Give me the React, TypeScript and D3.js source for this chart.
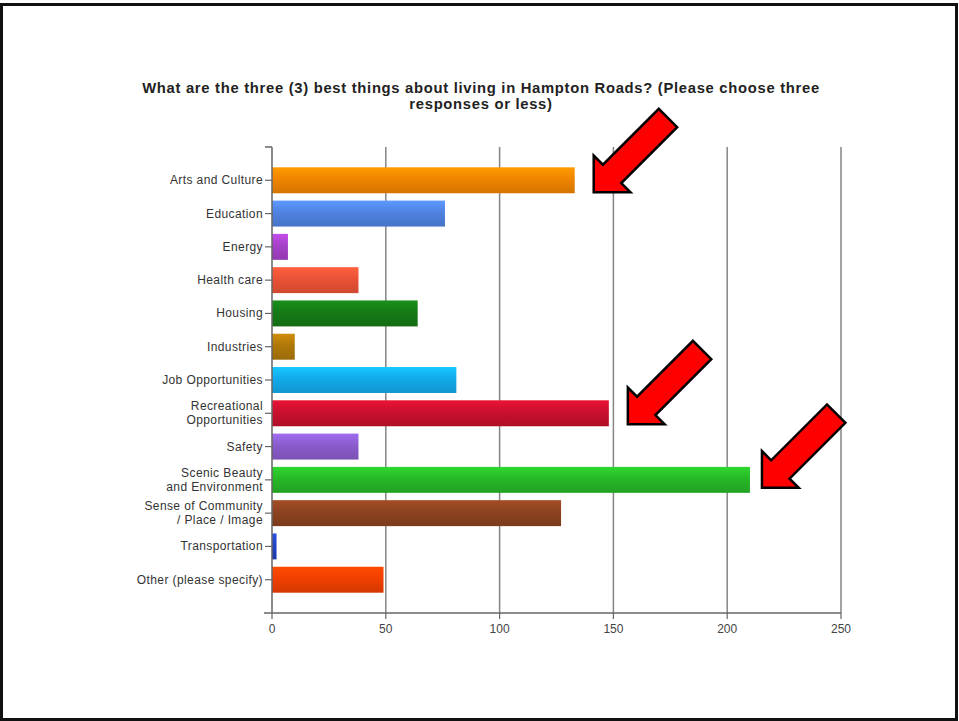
import React from "react";
import * as d3 from "d3";

const categories = [
  "Arts and Culture",
  "Education",
  "Energy",
  "Health care",
  "Housing",
  "Industries",
  "Job Opportunities",
  "Recreational Opportunities",
  "Safety",
  "Scenic Beauty and Environment",
  "Sense of Community / Place / Image",
  "Transportation",
  "Other (please specify)",
];
const labelLines = [
  ["Arts and Culture"],
  ["Education"],
  ["Energy"],
  ["Health care"],
  ["Housing"],
  ["Industries"],
  ["Job Opportunities"],
  ["Recreational", "Opportunities"],
  ["Safety"],
  ["Scenic Beauty", "and Environment"],
  ["Sense of Community", "/ Place / Image"],
  ["Transportation"],
  ["Other (please specify)"],
];
const values = [133, 76, 7, 38, 64, 10, 81, 148, 38, 210, 127, 2, 49];
const barColors = [
  "#f08400",
  "#4f82e0",
  "#a641c8",
  "#ea5236",
  "#157a15",
  "#b0780a",
  "#12aaea",
  "#c8102e",
  "#8a5ccc",
  "#27b827",
  "#8c4220",
  "#2244c4",
  "#f04000",
];
const xTicks = [0, 50, 100, 150, 200, 250];
const titleLines = [
  "What are the three (3) best things about living in Hampton Roads? (Please choose three",
  "responses or less)",
];
const highlighted = [
  "Arts and Culture",
  "Recreational Opportunities",
  "Scenic Beauty and Environment",
];

const W = 959;
const H = 721;
const plot = { left: 272, right: 841, top: 147, bottom: 613 };

export default function App() {
  const x = d3.scaleLinear().domain([0, 250]).range([plot.left, plot.right]);
  const y = d3
    .scalePoint<string>()
    .domain(categories)
    .range([plot.top, plot.bottom])
    .padding(1);
  const step = y.step();
  const bh = step * 0.78;
  const font = "'Liberation Sans', Arial, sans-serif";
  const narrow = "'Liberation Sans Narrow', 'Liberation Sans', Arial, sans-serif";

  // arrow polygon in local coords: tip at origin, shaft going along +x
  const arrowPts: [number, number][] = [
    [0, 0],
    [26, -26],
    [26, -13],
    [105, -13],
    [105, 13],
    [26, 13],
    [26, 26],
  ];
  const arrowOffsets: Record<string, [number, number]> = {
    "Arts and Culture": [19, 12],
    "Recreational Opportunities": [19, 11],
    "Scenic Beauty and Environment": [12, 8],
  };

  return (
    <div style={{ position: "absolute", left: 0, top: 0 }}>
      <svg width={W} height={H} style={{ display: "block" }}>
        <defs>
          {barColors.map((c, i) => {
            const base = d3.color(c)!;
            return (
              <linearGradient key={i} id={`g${i}`} x1="0" y1="0" x2="0" y2="1">
                <stop offset="0%" stopColor={base.brighter(0.45).formatHex()} />
                <stop offset="45%" stopColor={base.formatHex()} />
                <stop offset="100%" stopColor={base.darker(0.35).formatHex()} />
              </linearGradient>
            );
          })}
        </defs>
        <rect x={0} y={0} width={W} height={H} fill="#fff" />
        <rect
          x={1.5}
          y={4.5}
          width={955}
          height={715}
          fill="none"
          stroke="#111"
          strokeWidth={3}
        />

        {/* title */}
        {titleLines.map((t, i) => (
          <text
            key={i}
            x={481}
            y={93 + i * 15.5}
            textAnchor="middle"
            fontFamily={font}
            fontWeight="bold"
            fontSize={14.8}
            letterSpacing={0.7}
            fill="#222"
          >
            {t}
          </text>
        ))}

        {/* gridlines */}
        {xTicks.slice(1).map((t) => (
          <line
            key={t}
            x1={x(t)}
            x2={x(t)}
            y1={plot.top}
            y2={plot.bottom}
            stroke="#858585"
            strokeWidth={1.5}
          />
        ))}

        {/* bars */}
        {categories.map((c, i) => (
          <rect
            key={c}
            x={x(0)}
            y={y(c)! - bh / 2}
            width={x(values[i]) - x(0)}
            height={bh}
            fill={`url(#g${i})`}
          />
        ))}

        {/* y axis */}
        <line
          x1={plot.left}
          x2={plot.left}
          y1={plot.top}
          y2={plot.bottom}
          stroke="#666"
          strokeWidth={1.5}
        />
        <line
          x1={plot.left - 7}
          x2={plot.left}
          y1={plot.top}
          y2={plot.top}
          stroke="#666"
          strokeWidth={1.5}
        />
        {categories.map((c, i) => {
          const lines = labelLines[i];
          const cy = y(c)!;
          return (
            <g key={c}>
              <line
                x1={plot.left - 7}
                x2={plot.left}
                y1={cy}
                y2={cy}
                stroke="#666"
                strokeWidth={1.2}
              />
              {lines.map((l, j) => (
                <text
                  key={j}
                  x={plot.left - 9}
                  y={cy + 4 + (j - (lines.length - 1) / 2) * 14}
                  textAnchor="end"
                  fontFamily={font}
                  fontSize={12}
                  letterSpacing={0.4}
                  fill="#333"
                >
                  {l}
                </text>
              ))}
            </g>
          );
        })}

        {/* x axis */}
        <line
          x1={plot.left - 8}
          x2={plot.right}
          y1={plot.bottom}
          y2={plot.bottom}
          stroke="#666"
          strokeWidth={1.5}
        />
        {xTicks.map((t) => (
          <g key={t}>
            <line
              x1={x(t)}
              x2={x(t)}
              y1={plot.bottom}
              y2={plot.bottom + 6}
              stroke="#666"
              strokeWidth={1.2}
            />
            <text
              x={x(t)}
              y={plot.bottom + 20}
              textAnchor="middle"
              fontFamily={narrow}
              fontSize={12}
              fill="#444"
            >
              {t}
            </text>
          </g>
        ))}

        {/* arrows */}
        {highlighted.map((c) => {
          const i = categories.indexOf(c);
          const [dx, dy] = arrowOffsets[c];
          const tx = x(values[i]) + dx;
          const ty = y(c)! + dy;
          return (
            <polygon
              key={c}
              points={arrowPts.map((p) => p.join(",")).join(" ")}
              transform={`translate(${tx},${ty}) rotate(-45)`}
              fill="#ff0000"
              stroke="#000"
              strokeWidth={2.5}
              strokeLinejoin="miter"
            />
          );
        })}
      </svg>
    </div>
  );
}
